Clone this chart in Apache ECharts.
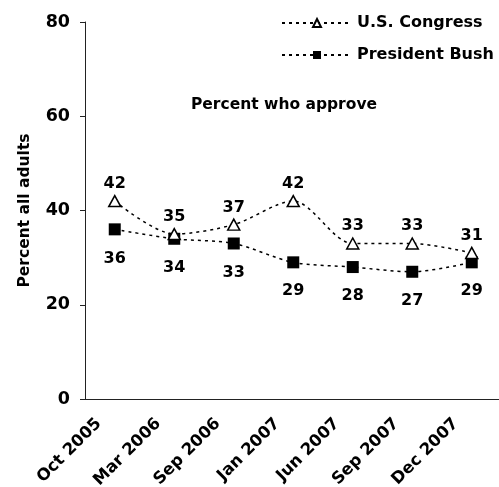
<!DOCTYPE html>
<html>
<head>
<meta charset="utf-8">
<script src="https://cdn.jsdelivr.net/npm/echarts@6/dist/echarts.min.js"></script>
<style>
  html, body { margin: 0; padding: 0; background: #fff; }
  #chart { width: 499px; height: 487px; }
</style>
</head>
<body>
<div id="chart"></div>
<script>
// Survey waves and approval ratings (percent of all adults)
const categories = ['Oct 2005', 'Mar 2006', 'Sep 2006', 'Jan 2007', 'Jun 2007', 'Sep 2007', 'Dec 2007'];
const congress = [42, 35, 37, 42, 33, 33, 31];
const bush = [36, 34, 33, 29, 28, 27, 29];
const yTicks = [0, 20, 40, 60, 80];

const FONT = '"DejaVu Sans", sans-serif';
const dotted = { color: '#000', width: 1.5, type: [3, 4] };

const chart = echarts.init(document.getElementById('chart'));
chart.setOption({
  animation: false,
  backgroundColor: '#fff',
  textStyle: { fontFamily: FONT },
  title: {
    text: 'Percent who approve',
    left: 186,
    top: 92,
    textStyle: { fontFamily: FONT, fontSize: 15.5, fontWeight: 'bold', color: '#000' }
  },
  legend: {
    orient: 'vertical',
    left: 276,
    top: 10,
    itemWidth: 70,
    itemHeight: 10,
    itemGap: 16,
    textStyle: { fontFamily: FONT, fontSize: 16, fontWeight: 'bold', color: '#000' },
    data: ['U.S. Congress', 'President Bush']
  },
  grid: { left: 85, top: 22, width: 416.5, bottom: 88, outerBoundsMode: 'none', containLabel: false },
  xAxis: {
    type: 'category',
    data: categories,
    boundaryGap: true,
    axisLine: { lineStyle: { color: '#222', width: 1 } },
    axisTick: { length: 6, lineStyle: { color: '#222' } },
    axisLabel: {
      rotate: 45,
      interval: 0,
      margin: 38,
      verticalAlign: 'bottom',
      lineHeight: 45,
      fontFamily: FONT,
      fontSize: 16.5,
      fontWeight: 'bold',
      color: '#000'
    }
  },
  yAxis: {
    type: 'value',
    min: yTicks[0],
    max: yTicks[yTicks.length - 1],
    interval: 20,
    name: 'Percent all adults',
    nameLocation: 'middle',
    nameGap: 52,
    nameTextStyle: { fontFamily: FONT, fontSize: 15.5, fontWeight: 'bold', color: '#000' },
    axisLine: { show: true, lineStyle: { color: '#222', width: 1 } },
    axisTick: { show: true, length: 5, lineStyle: { color: '#222' } },
    splitLine: { show: false },
    axisLabel: {
      margin: 15,
      fontFamily: FONT,
      fontSize: 17.5,
      fontWeight: 'bold',
      color: '#000'
    }
  },
  series: [
    {
      name: 'U.S. Congress',
      type: 'line',
      data: congress,
      smooth: 0.3,
      symbol: 'triangle',
      symbolSize: [12, 11],
      lineStyle: dotted,
      itemStyle: { color: '#fff', borderColor: '#000', borderWidth: 1.5 },
      label: {
        show: true,
        position: 'top',
        distance: 3,
        fontFamily: FONT,
        fontSize: 16,
        fontWeight: 'bold',
        color: '#000'
      },
      z: 3
    },
    {
      name: 'President Bush',
      type: 'line',
      data: bush,
      smooth: 0.3,
      symbol: 'rect',
      symbolSize: 12,
      lineStyle: dotted,
      itemStyle: { color: '#000', borderColor: '#000', borderWidth: 0 },
      label: {
        show: true,
        position: 'bottom',
        distance: 15,
        fontFamily: FONT,
        fontSize: 16,
        fontWeight: 'bold',
        color: '#000'
      },
      z: 2
    }
  ]
});
</script>
</body>
</html>
